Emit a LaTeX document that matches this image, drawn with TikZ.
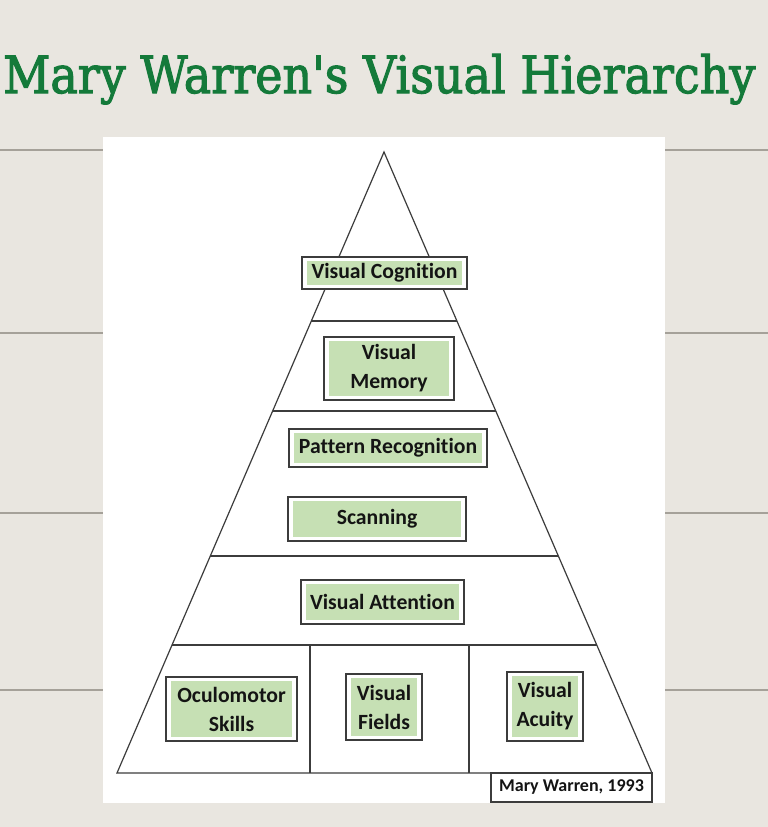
\documentclass[tikz,border=0pt]{standalone}
\usepackage{fontspec}
\setsansfont{Carlito}[Ligatures=NoCommon]
\newfontfamily\titlefont{DejaVu Serif}
\usetikzlibrary{calc}
\definecolor{woodbg}{RGB}{233,230,224}
\definecolor{seam}{RGB}{165,161,153}
\definecolor{linegray}{RGB}{60,60,60}
\definecolor{boxgreen}{RGB}{198,224,180}
\definecolor{titlegreen}{RGB}{20,122,58}
\definecolor{textblack}{RGB}{20,20,20}
\newcommand{\heavytext}[1]{\special{pdf:code q 2 Tr 0.22 w}#1\special{pdf:code Q}}
\tikzset{
  pyr/.style={draw=linegray, line width=1.2pt},
  seamline/.style={draw=seam, line width=2pt},
  lvl/.style={draw=linegray, line width=1.4pt, fill=white, inner sep=0pt,
    align=center, text=textblack,
    font=\sffamily\bfseries\fontsize{21.7}{29}\selectfont,
    path picture={\fill[boxgreen]
      ([shift={(5pt,-4pt)}]path picture bounding box.north west) rectangle
      ([shift={(-5pt,4pt)}]path picture bounding box.south east);}},
  credit/.style={draw=linegray, line width=1.4pt, fill=white, inner sep=0pt,
    text=textblack, font=\sffamily\bfseries\fontsize{18}{21}\selectfont},
}
\begin{document}
\begin{tikzpicture}[x=1pt,y=-1pt]
\useasboundingbox (0,0) rectangle (768,827);
% wood background
\fill[woodbg] (0,0) rectangle (768,827);
\foreach \yy in {150,333,513,690}{
  \draw[seamline] (0,\yy) -- (768,\yy);
}
% title
\node[anchor=base west, inner sep=0pt, text=titlegreen] (title) at (3,93)
  {\resizebox{752pt}{39pt}{\color{titlegreen}\heavytext{\titlefont Mary Warren's Visual Hierarchy}}};
% white panel
\fill[white] (103,137) rectangle (665,803);
% pyramid
\coordinate (apex) at (384,152);
\coordinate (bl) at (117,773);
\coordinate (br) at (652,773);
\draw[pyr] (bl) -- (apex) -- (br) -- cycle;
\foreach \yy/\nm in {321/a,411/b,556/c,645/d}{
  \coordinate (L\nm) at ($(apex)!{(\yy-152)/621}!(bl)$);
  \coordinate (R\nm) at ($(apex)!{(\yy-152)/621}!(br)$);
  \draw[pyr] (L\nm) -- (R\nm);
}
\coordinate (v1t) at (310,645);
\coordinate (v1b) at (310,773);
\coordinate (v2t) at (469,645);
\coordinate (v2b) at (469,773);
\draw[pyr] (v1t) -- (v1b);
\draw[pyr] (v2t) -- (v2b);
% level boxes
\node[lvl, minimum width=165pt, minimum height=32pt] (cog) at (384.5,273) {Visual Cognition};
\node[lvl, minimum width=130pt, minimum height=63pt] (mem) at (389,368.5) {Visual\\Memory};
\node[lvl, minimum width=198pt, minimum height=38pt] (pat) at (388,448) {Pattern Recognition};
\node[lvl, minimum width=178pt, minimum height=44pt] (scan) at (377,519) {Scanning};
\node[lvl, minimum width=163pt, minimum height=44pt] (att) at (382.5,602) {Visual Attention};
\node[lvl, minimum width=131pt, minimum height=64pt] (ocu) at (231.5,709) {Oculomotor\\Skills};
\node[lvl, minimum width=76pt, minimum height=66pt] (fld) at (384,707) {Visual\\Fields};
\node[lvl, minimum width=76pt, minimum height=69pt] (acu) at (545,706.5) {Visual\\Acuity};
% credit
\node[credit, minimum width=161pt, minimum height=29pt] (cred) at (571.5,787.5) {Mary Warren, 1993};
\end{tikzpicture}
\end{document}
